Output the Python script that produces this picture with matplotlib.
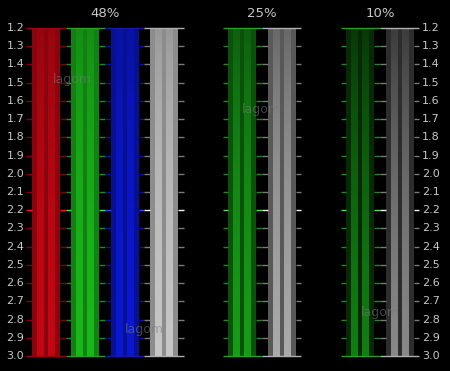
import numpy as np
import matplotlib
matplotlib.use("Agg")
import matplotlib.pyplot as plt

# test levels (percent) and the bars in each panel
levels = [48, 25, 10]
panel_titles = ["48%", "25%", "10%"]
panel_channels = [["red", "green", "blue", "gray"], ["green", "gray"], ["green", "gray"]]
panel_slots = [[0, 1, 2, 3], [5, 6], [8, 9]]

# gamma scale
gamma_ticks = [1.2, 1.3, 1.4, 1.5, 1.6, 1.7, 1.8, 1.9, 2.0, 2.1,
               2.2, 2.3, 2.4, 2.5, 2.6, 2.7, 2.8, 2.9, 3.0]
target_gamma = 2.2

# stripe pattern inside a bar: 0 = dithered, 1 = solid
stripes = [0] * 5 + [1] * 7 + [0] * 4 + [1] * 7 + [0] * 5

channel_rgb = {
    "red": (0.92, 0.03, 0.09),
    "green": (0.12, 0.86, 0.12),
    "blue": (0.05, 0.11, 0.98),
    "gray": (0.93, 0.93, 0.93),
}
tick_dim = {"red": "#80000a", "green": "#1c8a1c", "blue": "#10109a", "gray": "#7a7a7a"}
tick_edge = {"red": "#a0000c", "green": "#28a028", "blue": "#1818b0", "gray": "#b0b0b0"}
tick_hot = {"red": "#ff1010", "green": "#50e050", "blue": "#2848ff", "gray": "#f0f0f0"}

bar_w = 0.712
tick_len = 0.145
text_col = "#c8c8c8"

fig = plt.figure(figsize=(4.5, 3.71), dpi=100, facecolor="black")
ax = fig.add_axes([0, 0, 1, 1])
ax.set_facecolor("black")
ax.set_xlim(-0.814, 10.64)
ax.set_ylim(3.0823, 1.0463)
ax.axis("off")

g_rows = np.linspace(gamma_ticks[0], gamma_ticks[-1], 300)
pattern = np.array(stripes)

for level, title, chans, slots in zip(levels, panel_titles, panel_channels, panel_slots):
    p = level / 100.0
    solid = p ** (1.0 / g_rows)
    for ch, x0 in zip(chans, slots):
        shade = np.where(pattern[None, :] == 1, solid[:, None], p)
        shade = shade ** (1 / 1.4)
        img = shade[:, :, None] * np.array(channel_rgb[ch])[None, None, :]
        ax.imshow(np.clip(img, 0, 1), extent=[x0, x0 + bar_w, gamma_ticks[-1], gamma_ticks[0]],
                  aspect="auto", interpolation="nearest", zorder=1)
        for g in gamma_ticks:
            col = tick_hot[ch] if g == target_gamma else tick_dim[ch]
            if g in (gamma_ticks[0], gamma_ticks[-1]):
                ax.hlines(g, x0 - tick_len, x0 + bar_w + tick_len, color=tick_edge[ch],
                          lw=1.0, zorder=3)
            else:
                ax.hlines(g, x0 - tick_len, x0, color=col, lw=1.0, zorder=2)
                ax.hlines(g, x0 + bar_w, x0 + bar_w + tick_len, color=col, lw=1.0, zorder=2)
    center = (slots[0] + slots[-1] + bar_w) / 2
    ax.text(center, 1.118, title, ha="center", va="center", color=text_col, fontsize=9.5)

for g in gamma_ticks:
    ax.text(-0.2, g, f"{g:.1f}", ha="right", va="center", color=text_col, fontsize=8)
    ax.text(9.93, g, f"{g:.1f}", ha="left", va="center", color=text_col, fontsize=8)

# faint watermarks
for x, y in [(1.04, 1.485), (5.85, 1.645), (2.85, 2.857), (8.86, 2.759)]:
    ax.text(x, y, "lagom", ha="center", va="center", color="#7a7a7a", alpha=0.55,
            fontsize=9, zorder=4)

fig.savefig("out.png", dpi=100, facecolor="black")
